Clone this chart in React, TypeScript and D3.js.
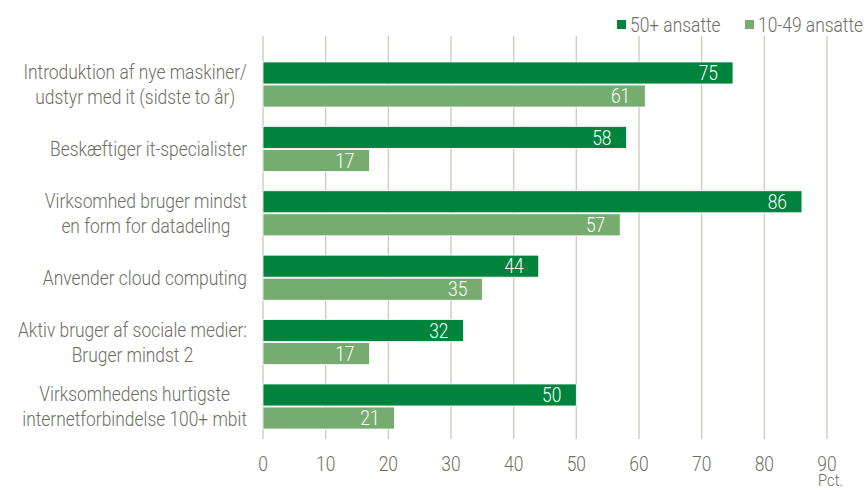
import React, { useEffect, useRef } from "react";
import * as d3 from "d3";

const categories = [
  ["Introduktion af nye maskiner/", "udstyr med it (sidste to år)"],
  ["Beskæftiger it-specialister"],
  ["Virksomhed bruger mindst", "en form for datadeling"],
  ["Anvender cloud computing"],
  ["Aktiv bruger af sociale medier:", "Bruger mindst 2"],
  ["Virksomhedens hurtigste", "internetforbindelse 100+ mbit"],
];
const seriesNames = ["50+ ansatte", "10-49 ansatte"];
const large = [75, 58, 86, 44, 32, 50];
const small = [61, 17, 57, 35, 17, 21];
const ticks = [0, 10, 20, 30, 40, 50, 60, 70, 80, 90];
const colors = ["#00843D", "#77AC70"];

const FONT = "Roboto, 'Liberation Sans Narrow', sans-serif";
const TEXT = "#6E6E5F";
const SX = 0.87;

function T({ x, y, anchor = "start", fill = TEXT, size = 20, children }: any) {
  return (
    <g transform={`translate(${x},${y}) scale(${SX},1)`}>
      <text x={0} y={0} dy="0.36em" textAnchor={anchor} fill={fill} fontSize={size}>
        {children}
      </text>
    </g>
  );
}

export default function App() {
  const W = 864, H = 490;
  const ref = useRef<SVGSVGElement>(null);
  const x = d3.scaleLinear().domain([0, 90]).range([263, 827]);
  const y = d3.scaleBand().domain(categories.map((_, i) => String(i))).range([52.3, 438.7]).paddingInner(0.3).paddingOuter(0.15);
  const inner = d3.scaleBand().domain(["0", "1"]).range([0, y.bandwidth()]).paddingInner(0.045);
  const series = [large, small];

  useEffect(() => {
    if (!ref.current) return;
    d3.select(ref.current)
      .selectAll<SVGGElement, unknown>("g.cat-label")
      .each(function () {
        const texts = d3.select(this).selectAll<SVGTextElement, unknown>("text");
        let maxW = 0;
        texts.each(function () {
          maxW = Math.max(maxW, this.getComputedTextLength());
        });
        texts.attr("x", -maxW / 2).attr("text-anchor", "middle");
      });
  }, []);

  return (
    <svg ref={ref} width={W} height={H} style={{ position: "absolute", left: 0, top: 0, fontFamily: FONT, fontWeight: 300 }}>
      {ticks.map((t) => (
        <line key={t} x1={x(t)} x2={x(t)} y1={36} y2={439} stroke="#CFCFC6" strokeWidth={1.5} />
      ))}
      {categories.map((c, i) => (
        <g key={i} transform={`translate(0,${y(String(i))})`}>
          {series.map((s, k) => (
            <g key={k}>
              <rect x={x(0)} y={inner(String(k))} width={x(s[i]) - x(0)} height={inner.bandwidth()} fill={colors[k]} stroke="#fff" strokeWidth={0.8} />
              <T x={x(s[i]) - 15} y={inner(String(k))! + inner.bandwidth() / 2} anchor="end" fill="#fff">
                {s[i]}
              </T>
            </g>
          ))}
          <g className="cat-label" transform={`translate(247,${y.bandwidth() / 2}) scale(${SX},1)`}>
            {c.map((line, j) => (
              <text key={j} x={0} y={(j - (c.length - 1) / 2) * 25} dy="0.36em" textAnchor="end" fill={TEXT} fontSize={20}>
                {line}
              </text>
            ))}
          </g>
        </g>
      ))}
      {ticks.map((t) => (
        <T key={t} x={x(t)} y={464} anchor="middle">{t}</T>
      ))}
      <T x={818} y={480} size={17}>Pct.</T>
      <g>
        <rect x={617} y={20} width={9} height={9} fill={colors[0]} />
        <T x={630} y={25}>{seriesNames[0]}</T>
        <rect x={745} y={20} width={9} height={9} fill={colors[1]} />
        <T x={758} y={25}>{seriesNames[1]}</T>
      </g>
    </svg>
  );
}
